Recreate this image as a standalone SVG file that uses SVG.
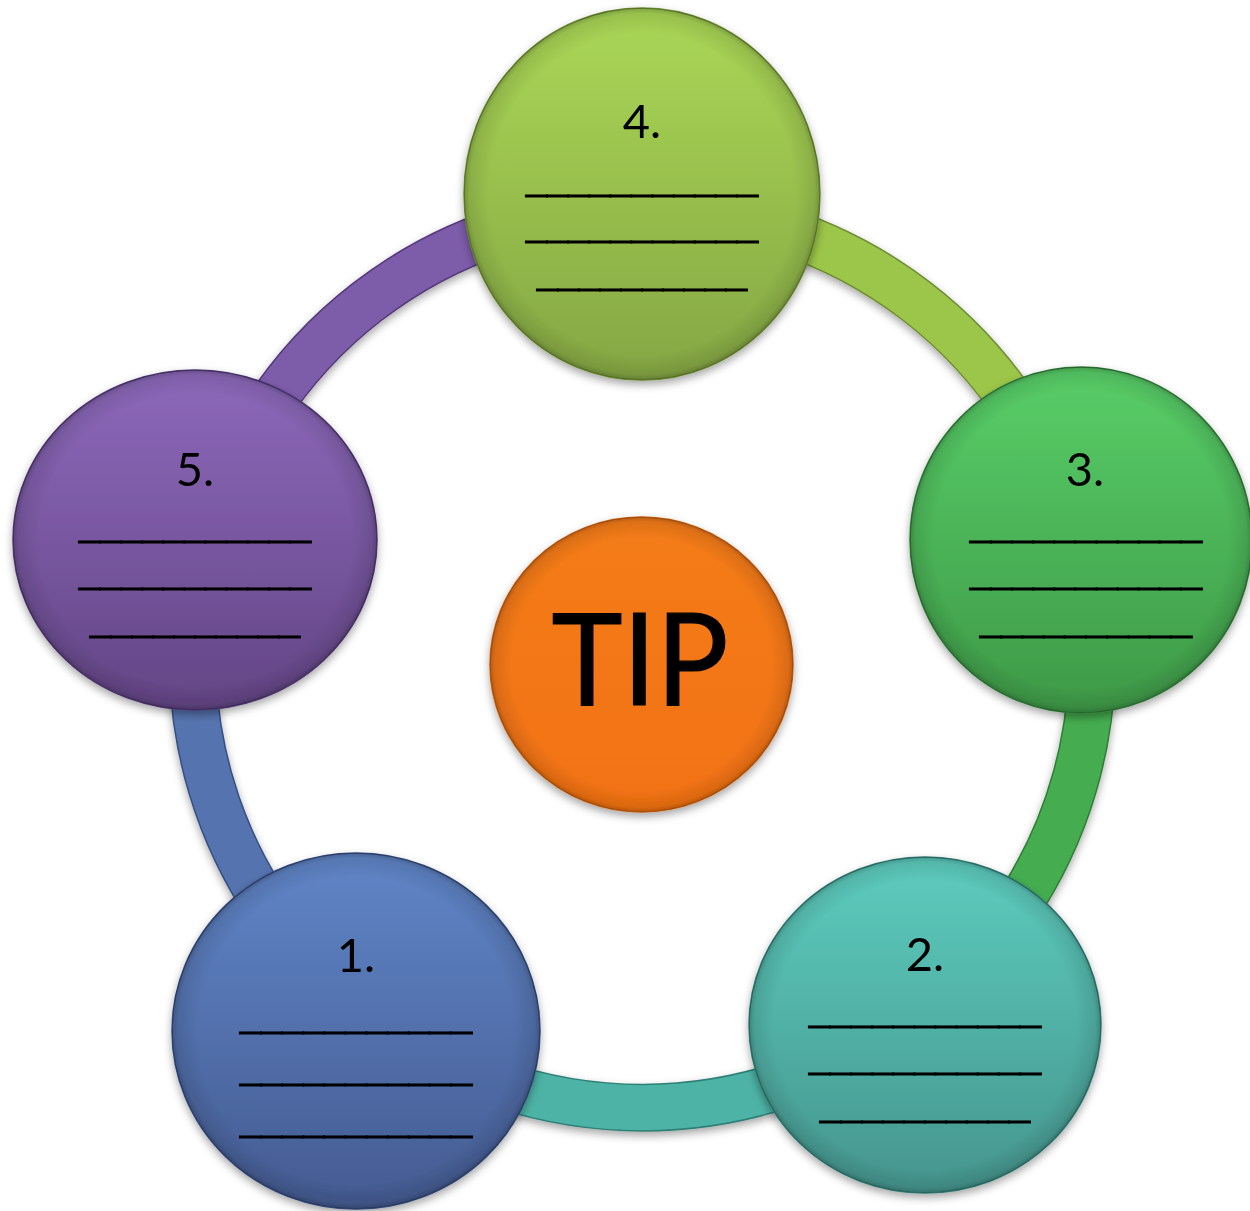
<svg xmlns="http://www.w3.org/2000/svg" width="1250" height="1211" viewBox="0 0 1250 1211">
<defs>
  <style>
    .num{font-family:Lato,"Open Sans","Noto Sans",sans-serif;font-size:47px;fill:#000;text-anchor:middle}
    .ln{font-family:"Liberation Sans",Arial,sans-serif;font-size:34px;fill:#000;stroke:#000;stroke-width:0.9;text-anchor:middle}
    .tip{font-family:Lato,"Open Sans","Noto Sans",sans-serif;font-size:128px;fill:#000;stroke:#000;stroke-width:1.2;text-anchor:middle}
    .ring{fill:none;stroke-width:45;stroke-linecap:butt}
    .ringedge{fill:none;stroke-width:48;stroke-linecap:butt}
    .rim{stroke-width:1.5}
  </style>
  <filter id="sh" x="-20%" y="-20%" width="140%" height="140%">
    <feDropShadow dx="0" dy="4" stdDeviation="4" flood-color="#000" flood-opacity="0.35"/>
  </filter>
  <radialGradient id="bevel" cx="0.5" cy="0.5" r="0.5">
    <stop offset="0.86" stop-color="#000" stop-opacity="0"/>
    <stop offset="0.97" stop-color="#000" stop-opacity="0.10"/>
    <stop offset="1" stop-color="#000" stop-opacity="0.25"/>
  </radialGradient>
  <linearGradient id="g4" x1="0" y1="0" x2="0" y2="1"><stop offset="0" stop-color="#AAD756"/><stop offset="1" stop-color="#85A744"/></linearGradient>
  <linearGradient id="g3" x1="0" y1="0" x2="0" y2="1"><stop offset="0" stop-color="#58CE68"/><stop offset="1" stop-color="#3E9947"/></linearGradient>
  <linearGradient id="g2" x1="0" y1="0" x2="0" y2="1"><stop offset="0" stop-color="#5DCCBE"/><stop offset="1" stop-color="#45958D"/></linearGradient>
  <linearGradient id="g1" x1="0" y1="0" x2="0" y2="1"><stop offset="0" stop-color="#6085C7"/><stop offset="1" stop-color="#445B91"/></linearGradient>
  <linearGradient id="g5" x1="0" y1="0" x2="0" y2="1"><stop offset="0" stop-color="#8D69BB"/><stop offset="1" stop-color="#634585"/></linearGradient>
  <linearGradient id="gt" x1="0" y1="0" x2="0" y2="1"><stop offset="0" stop-color="#F47C1A"/><stop offset="1" stop-color="#F27212"/></linearGradient>
</defs>
<rect width="1250" height="1211" fill="#fff"/>

<g id="connectors" filter="url(#sh)">
  <path class="ringedge" stroke="#6E8E33" d="M 642 208 A 450 450 0 0 1 1077 542"/>
  <path class="ring" stroke="#9CC64A" d="M 642 208 A 450 450 0 0 1 1077 542"/>
  <path class="ringedge" stroke="#2F7D37" d="M 1077 542 A 450 450 0 0 1 916 1015"/>
  <path class="ring" stroke="#45AD50" d="M 1077 542 A 450 450 0 0 1 916 1015"/>
  <path class="ringedge" stroke="#2E7F75" d="M 916 1015 A 450 450 0 0 1 369 1015"/>
  <path class="ring" stroke="#4DB3A6" d="M 916 1015 A 450 450 0 0 1 369 1015"/>
  <path class="ringedge" stroke="#354F82" d="M 369 1015 A 450 450 0 0 1 207 544"/>
  <path class="ring" stroke="#5573AE" d="M 369 1015 A 450 450 0 0 1 207 544"/>
  <path class="ringedge" stroke="#54397A" d="M 207 544 A 450 450 0 0 1 642 208"/>
  <path class="ring" stroke="#7D5BAA" d="M 207 544 A 450 450 0 0 1 642 208"/>
</g>

<g id="node4" filter="url(#sh)">
  <ellipse cx="642" cy="194" rx="178" ry="186" fill="url(#g4)" stroke="#6A8A30" class="rim"/>
  <ellipse cx="642" cy="194" rx="178" ry="186" fill="url(#bevel)"/>
  <text class="num" x="642" y="138">4.</text>
  <text class="ln" x="642" y="190" textLength="232" lengthAdjust="spacingAndGlyphs">___________</text>
  <text class="ln" x="642" y="236" textLength="232" lengthAdjust="spacingAndGlyphs">___________</text>
  <text class="ln" x="642" y="284" textLength="210" lengthAdjust="spacingAndGlyphs">__________</text>
</g>

<g id="node3" filter="url(#sh)">
  <ellipse cx="1081" cy="540" rx="171" ry="173" fill="url(#g3)" stroke="#2F7A37" class="rim"/>
  <ellipse cx="1081" cy="540" rx="171" ry="173" fill="url(#bevel)"/>
  <text class="num" x="1085" y="486">3.</text>
  <text class="ln" x="1086" y="536" textLength="232" lengthAdjust="spacingAndGlyphs">___________</text>
  <text class="ln" x="1086" y="583" textLength="232" lengthAdjust="spacingAndGlyphs">___________</text>
  <text class="ln" x="1086" y="631" textLength="212" lengthAdjust="spacingAndGlyphs">__________</text>
</g>

<g id="node2" filter="url(#sh)">
  <ellipse cx="925" cy="1025" rx="176" ry="168" fill="url(#g2)" stroke="#2F7A72" class="rim"/>
  <ellipse cx="925" cy="1025" rx="176" ry="168" fill="url(#bevel)"/>
  <text class="num" x="925" y="971">2.</text>
  <text class="ln" x="925" y="1021" textLength="232" lengthAdjust="spacingAndGlyphs">___________</text>
  <text class="ln" x="925" y="1068" textLength="232" lengthAdjust="spacingAndGlyphs">___________</text>
  <text class="ln" x="925" y="1116" textLength="210" lengthAdjust="spacingAndGlyphs">__________</text>
</g>

<g id="node1" filter="url(#sh)">
  <ellipse cx="356" cy="1031" rx="184" ry="178" fill="url(#g1)" stroke="#33497A" class="rim"/>
  <ellipse cx="356" cy="1031" rx="184" ry="178" fill="url(#bevel)"/>
  <text class="num" x="356" y="972">1.</text>
  <text class="ln" x="356" y="1027" textLength="232" lengthAdjust="spacingAndGlyphs">___________</text>
  <text class="ln" x="356" y="1079" textLength="232" lengthAdjust="spacingAndGlyphs">___________</text>
  <text class="ln" x="356" y="1131" textLength="232" lengthAdjust="spacingAndGlyphs">___________</text>
</g>

<g id="node5" filter="url(#sh)">
  <ellipse cx="195" cy="540" rx="182" ry="170" fill="url(#g5)" stroke="#4E3672" class="rim"/>
  <ellipse cx="195" cy="540" rx="182" ry="170" fill="url(#bevel)"/>
  <text class="num" x="195" y="486">5.</text>
  <text class="ln" x="195" y="536" textLength="232" lengthAdjust="spacingAndGlyphs">___________</text>
  <text class="ln" x="195" y="583" textLength="232" lengthAdjust="spacingAndGlyphs">___________</text>
  <text class="ln" x="195" y="631" textLength="210" lengthAdjust="spacingAndGlyphs">__________</text>
</g>

<g id="nodeTIP" filter="url(#sh)">
  <ellipse cx="641.5" cy="664.5" rx="151.5" ry="147.5" fill="url(#gt)" stroke="#C85E0C" class="rim"/>
  <ellipse cx="641.5" cy="664.5" rx="151.5" ry="147.5" fill="url(#bevel)"/>
  <text class="tip" x="640" y="705" textLength="177" lengthAdjust="spacingAndGlyphs">TIP</text>
</g>
</svg>
